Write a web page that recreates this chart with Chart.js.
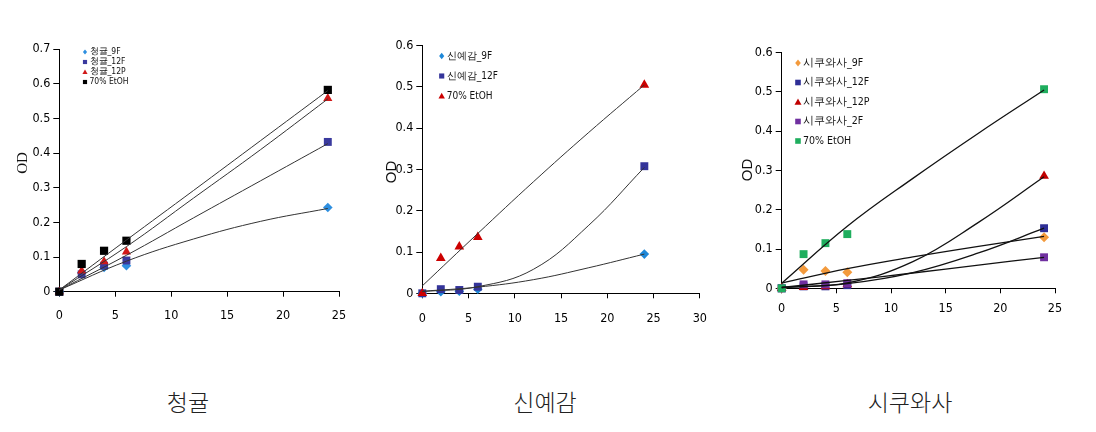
<!DOCTYPE html>
<html>
<head>
<meta charset="utf-8">
<script src="https://cdn.jsdelivr.net/npm/chart.js@4.4.1/dist/chart.umd.min.js"></script>
<style>
  html, body { margin: 0; padding: 0; background: #fff; }
  #page { position: relative; width: 1096px; height: 432px; overflow: hidden; }
  .box { position: absolute; top: 0; height: 340px; }
  .name { position: absolute; top: 384px; font-family: "Noto Sans CJK KR", sans-serif; font-weight: 300;
          font-size: 23px; color: #222; transform: translateX(-50%); white-space: nowrap; }
</style>
</head>
<body>
<div id="page">
  <div class="box" style="left:0;width:360px"><canvas id="c1"></canvas></div>
  <div class="box" style="left:360px;width:360px"><canvas id="c2"></canvas></div>
  <div class="box" style="left:720px;width:376px"><canvas id="c3"></canvas></div>
  <div class="name" style="left:188px">청귤</div>
  <div class="name" style="left:545px">신예감</div>
  <div class="name" style="left:910px">시쿠와사</div>
</div>
<script>
// sampling times
const hours = [0, 2, 4, 6, 24];
const trendX = [0, 6, 12, 18, 24];

// 청귤
const cg9F = [0, 0.055, 0.07, 0.075, 0.243];
const cg12F = [0, 0.05, 0.075, 0.09, 0.432];
const cg12P = [0, 0.06, 0.087, 0.115, 0.558];
const cgEtOH = [0, 0.08, 0.118, 0.147, 0.582];
const cgT9F = [0.005, 0.088, 0.152, 0.203, 0.24];
const cgT12F = [0.005, 0.105, 0.213, 0.32, 0.427];
const cgT12P = [0.005, 0.13, 0.27, 0.41, 0.556];
const cgTEtOH = [0.005, 0.149, 0.292, 0.436, 0.58];

// 신예감
const sy9F = [0, 0.004, 0.005, 0.01, 0.095];
const sy12F = [0, 0.01, 0.008, 0.016, 0.308];
const syEtOH = [0, 0.085, 0.113, 0.136, 0.505];
const syT9F = [0.005, 0.015, 0.033, 0.062, 0.095];
const syT12F = [0.004, 0.016, 0.058, 0.165, 0.305];
const syTEtOH = [0.018, 0.145, 0.27, 0.39, 0.505];

// 시쿠와사
const sk9F = [0, 0.047, 0.044, 0.041, 0.13];
const sk12F = [0, 0.005, 0.005, 0.008, 0.153];
const sk12P = [0, 0.003, 0.005, 0.01, 0.286];
const sk2F = [0, 0.01, 0.01, 0.013, 0.079];
const skEtOH = [0, 0.087, 0.115, 0.138, 0.507];
const skT9F = [0.013, 0.05, 0.08, 0.107, 0.132];
const skT12F = [0.002, 0.012, 0.04, 0.09, 0.153];
const skT12P = [0.002, 0.014, 0.068, 0.168, 0.284];
const skT2F = [0.002, 0.02, 0.039, 0.059, 0.079];
const skTEtOH = [0.013, 0.158, 0.28, 0.395, 0.505];

const tickFont = "'Liberation Sans Narrow', 'DejaVu Sans Condensed', sans-serif";

function pts(xs, ys) {
  return xs.map((x, i) => ({ x: x, y: ys[i] }));
}

function series(label, ys, style, color, r) {
  return {
    label: label, data: pts(hours, ys), pointStyle: style, pointRadius: r,
    backgroundColor: color, borderColor: color, borderWidth: 0, showLine: false,
    clip: false
  };
}

function trend(ys, color, w) {
  return {
    label: '', isTrend: true, data: pts(trendX, ys), showLine: true, pointRadius: 0,
    borderColor: color, borderWidth: w, tension: 0.4,
    order: -1, clip: false
  };
}

function mark(ctx, style, x, y, s, color) {
  ctx.fillStyle = color;
  ctx.beginPath();
  if (style === 'rectRot') {
    ctx.moveTo(x, y - s); ctx.lineTo(x + s * 0.8, y); ctx.lineTo(x, y + s); ctx.lineTo(x - s * 0.8, y);
  } else if (style === 'triangle') {
    ctx.moveTo(x, y - s); ctx.lineTo(x + s, y + s * 0.8); ctx.lineTo(x - s, y + s * 0.8);
  } else {
    ctx.rect(x - s * 0.8, y - s * 0.8, s * 1.6, s * 1.6);
  }
  ctx.closePath();
  ctx.fill();
}

// legend inside the plot + the rotated OD title
const extras = {
  id: 'extras',
  afterDraw(chart, args, o) {
    const ctx = chart.ctx;
    ctx.save();
    ctx.textBaseline = 'middle';
    ctx.font = o.font;
    let y = o.y;
    chart.data.datasets.forEach(ds => {
      if (ds.isTrend) return;
      mark(ctx, ds.pointStyle, o.x, y, o.size, ds.backgroundColor);
      ctx.fillStyle = '#111';
      ctx.fillText(ds.label, o.x + o.gap, y);
      y += o.step;
    });
    ctx.translate(o.odX, o.odY);
    ctx.rotate(-Math.PI / 2);
    ctx.textAlign = 'center';
    ctx.font = o.odFont;
    ctx.fillStyle = '#111';
    ctx.fillText('OD', 0, 0);
    ctx.restore();
  }
};

function makeChart(id, datasets, xMax, yMax, box, legend) {
  new Chart(document.getElementById(id), {
    type: 'scatter',
    data: { datasets: datasets },
    plugins: [extras],
    options: {
      responsive: true,
      maintainAspectRatio: false,
      animation: false,
      layout: { padding: { top: box.top, right: box.right, left: 0, bottom: 0 } },
      plugins: { legend: { display: false }, tooltip: { enabled: false }, extras: legend },
      scales: {
        x: {
          type: 'linear', min: 0, max: xMax,
          afterFit: s => { s.height = box.xh; },
          grid: { drawOnChartArea: false, drawTicks: true, tickLength: 5, color: '#000' },
          border: { color: '#000' },
          ticks: { stepSize: 5, padding: box.xpad, color: '#000', font: { family: tickFont, size: 12.5 } }
        },
        y: {
          min: 0, max: yMax,
          afterFit: s => { s.width = box.yw; },
          grid: { drawOnChartArea: false, drawTicks: true, tickLength: 6, color: '#000' },
          border: { color: '#000' },
          ticks: {
            stepSize: 0.1, padding: 3, color: '#000', font: { family: tickFont, size: 12.5 },
            callback: v => (Math.round(v * 10) / 10).toString()
          }
        }
      }
    }
  });
}

makeChart('c1', [
  trend(cgT9F, '#333', 1), trend(cgT12F, '#333', 1), trend(cgT12P, '#333', 1), trend(cgTEtOH, '#333', 1),
  series('청귤_9F', cg9F, 'rectRot', '#2E8FE0', 4.8),
  series('청귤_12F', cg12F, 'rect', '#3A3A9E', 5.6),
  series('청귤_12P', cg12P, 'triangle', '#D01818', 5.3),
  series('70% EtOH', cgEtOH, 'rect', '#000000', 5.8)
].map((d, i) => (d.isTrend ? d : Object.assign(d, { order: 10 - i }))), 25, 0.7,
  { top: 49, right: 21, xh: 48.3, yw: 59.3, xpad: 12 },
  { x: 85, y: 52, step: 10, gap: 4.5, size: 2.6, font: "8.5px " + tickFont,
    odX: 23, odY: 163, odFont: "15px 'Liberation Serif', serif" });

makeChart('c2', [
  trend(syT9F, '#333', 1), trend(syT12F, '#333', 1), trend(syTEtOH, '#333', 1),
  series('신예감_9F', sy9F, 'rectRot', '#1E88D8', 4.8),
  series('신예감_12F', sy12F, 'rect', '#34349A', 5.6),
  series('70% EtOH', syEtOH, 'triangle', '#CC0000', 5.6)
].map((d, i) => (d.isTrend ? d : Object.assign(d, { order: 10 - i }))), 30, 0.6,
  { top: 45.7, right: 20, xh: 46.7, yw: 62.3, xpad: 13 },
  { x: 81.7, y: 56, step: 20, gap: 5, size: 3.2, font: "10px " + tickFont,
    odX: 31.7, odY: 172, odFont: "15px 'Liberation Sans', sans-serif" });

makeChart('c3', [
  trend(skT9F, '#111', 1.3), trend(skT12F, '#111', 1.3), trend(skT12P, '#111', 1.3),
  trend(skT2F, '#111', 1.3), trend(skTEtOH, '#111', 1.3),
  series('시쿠와사_9F', sk9F, 'rectRot', '#F39A3C', 5),
  series('시쿠와사_12F', sk12F, 'rect', '#2E2E96', 5.6),
  series('시쿠와사_12P', sk12P, 'triangle', '#C00000', 5.6),
  series('시쿠와사_2F', sk2F, 'rect', '#7030A0', 5.6),
  series('70% EtOH', skEtOH, 'rect', '#1FAE5E', 5.6)
].map((d, i) => (d.isTrend ? d : Object.assign(d, { order: 10 - i }))), 25, 0.6,
  { top: 52.7, right: 41, xh: 51.7, yw: 61.7, xpad: 8 },
  { x: 78, y: 63, step: 19.5, gap: 5, size: 3.5, font: "10.5px " + tickFont,
    odX: 28.3, odY: 170, odFont: "15px 'Liberation Sans', sans-serif" });
</script>
</body>
</html>
